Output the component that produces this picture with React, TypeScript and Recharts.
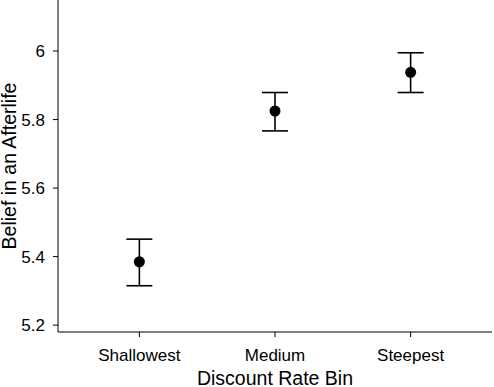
import React from 'react';
import { ComposedChart, Scatter, ErrorBar, XAxis, YAxis } from 'recharts';

const bins = ['Shallowest', 'Medium', 'Steepest'];
const means = [5.385, 5.825, 5.938];
const lower = [5.315, 5.767, 5.879];
const upper = [5.451, 5.879, 5.995];
const yTicks = [5.2, 5.4, 5.6, 5.8, 6];

const data = bins.map((name, i) => ({
  pos: i + 1,
  name,
  mean: means[i],
  err: [means[i] - lower[i], upper[i] - means[i]],
}));

const FONT = '"Liberation Sans", Arial, Helvetica, sans-serif';

const App: React.FC = () => {
  return (
    <div style={{ position: 'absolute', left: 0, top: 0, background: '#fff', fontFamily: FONT }}>
      <ComposedChart
        width={494}
        height={387}
        data={data}
        margin={{ top: 0, right: 2, left: 0, bottom: 0 }}
      >
        <XAxis
          type="number"
          dataKey="pos"
          domain={[0.4, 3.6]}
          ticks={[1, 2, 3]}
          tickFormatter={(v: number) => bins[v - 1]}
          height={55}
          tickSize={5}
          tickMargin={12}
          stroke="#000"
          tick={{ fill: '#000', fontSize: 17, fontFamily: FONT }}
          tickLine={{ stroke: '#000' }}
          label={{
            value: 'Discount Rate Bin',
            position: 'insideBottom',
            offset: 2,
            fill: '#000',
            fontSize: 19.5,
            fontFamily: FONT,
          }}
        />
        <YAxis
          type="number"
          domain={[5.18, 6.149]}
          ticks={yTicks}
          allowDataOverflow
          width={58}
          tickSize={5}
          tickMargin={8}
          stroke="#000"
          tick={{ fill: '#000', fontSize: 17, fontFamily: FONT }}
          tickLine={{ stroke: '#000' }}
          label={{
            value: 'Belief in an Afterlife',
            angle: -90,
            position: 'center',
            dx: -20,
            fill: '#000',
            fontSize: 19.5,
            fontFamily: FONT,
          }}
        />
        <Scatter
          dataKey="mean"
          fill="#000"
          isAnimationActive={false}
          shape={(props: any) => <circle cx={props.cx} cy={props.cy} r={5.5} fill="#000" />}
        >
          <ErrorBar dataKey="err" direction="y" width={13} stroke="#000" strokeWidth={1.6} />
        </Scatter>
      </ComposedChart>
    </div>
  );
};

export default App;
